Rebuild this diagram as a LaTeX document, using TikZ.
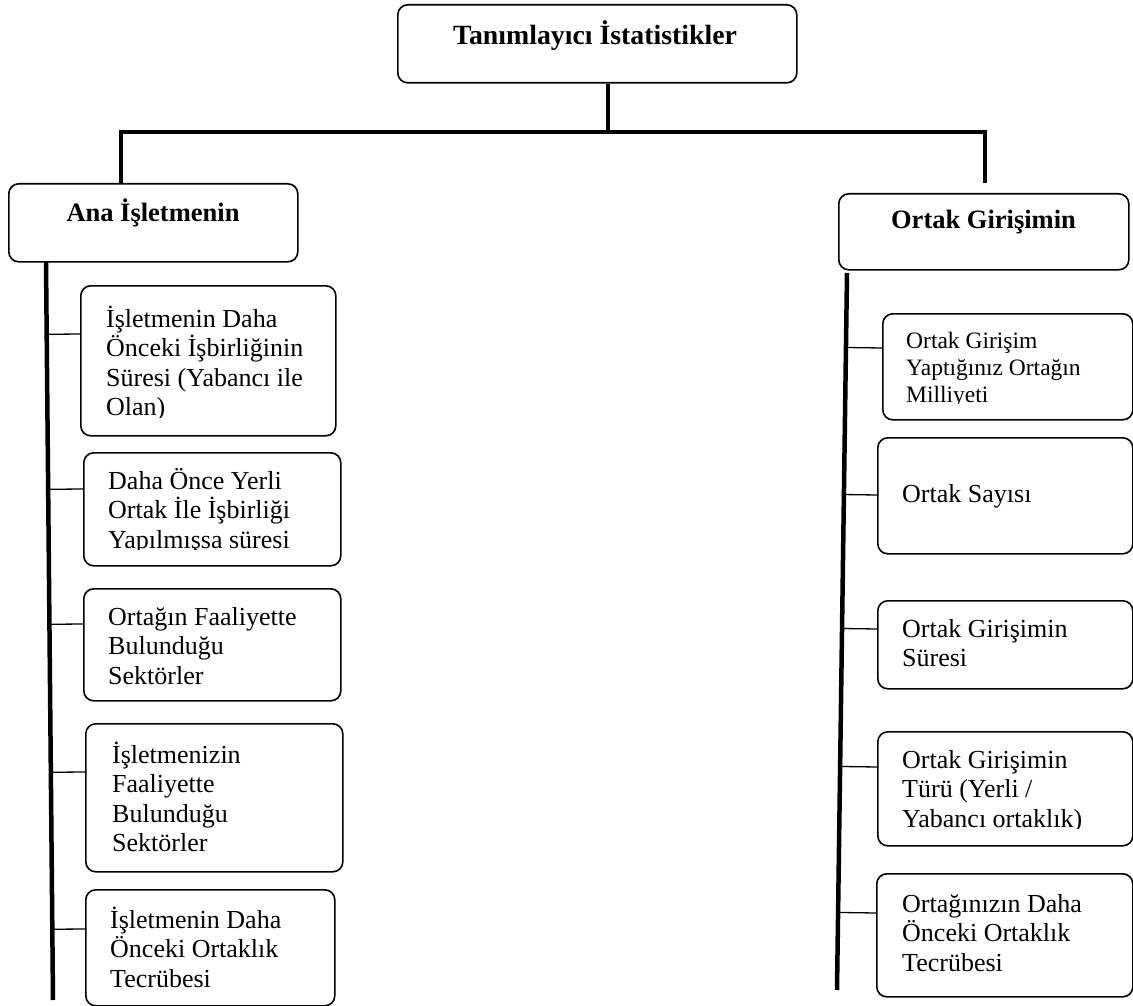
\documentclass[tikz,border=0pt]{standalone}
\usepackage{fontspec}
\setmainfont{Liberation Serif}
\usetikzlibrary{calc}

\tikzset{
  frame/.style={draw, line width=1.6pt, rounded corners=10pt, inner sep=0pt, anchor=north west},
  head/.style={font=\bfseries\fontsize{26.5}{30}\selectfont, anchor=base, inner sep=0pt},
  title/.style={head, font=\bfseries\fontsize{27.8}{31}\selectfont},
  leaf/.style={font=\fontsize{26}{29.5}\selectfont, anchor=base west, inner sep=0pt},
  leafsmall/.style={font=\fontsize{23.5}{27}\selectfont, anchor=base west, inner sep=0pt},
  stem/.style={line width=4.5pt},
  twig/.style={line width=1.3pt},
}
% stack of lines whose reference point is the first baseline
\newcommand\rows[1]{\vtop{\halign{##\hfil\cr#1\crcr}}}

\begin{document}
\begin{tikzpicture}[x=1pt,y=-1pt]
\useasboundingbox (0,0) rectangle (1133,1006);
\fill[white] (0,0) rectangle (1133,1006);

% headings
\node[frame, minimum width=399pt, minimum height=78pt] (T) at (397,4) {};
\node[title] (Tt) at (595,45) {Tanımlayıcı İstatistikler};
\node[frame, minimum width=289pt, minimum height=78pt] (A) at (8,183) {};
\node[head] (At) at (153,222) {Ana İşletmenin};
\node[frame, minimum width=290pt, minimum height=76pt] (O) at (838,193) {};
\node[head] (Ot) at (983.5,228) {Ortak Girişimin};

% top connector bus
\coordinate (hub) at (608,132);
\coordinate (bl) at (121,132);
\coordinate (br) at (985,132);
\coordinate (rd) at (985,183);
\draw[stem] (hub |- T.south) -- (hub);
\draw[stem] (A.north -| bl) -- (bl) -- (br) -- (rd);

% trunks
\coordinate (lt) at (46,262);
\coordinate (lb) at (53,1000);
\coordinate (rt) at (847,273);
\coordinate (rb) at (837,990);
\draw[stem] (lt) -- (lb);
\draw[stem] (rt) -- (rb);

% left column
\node[frame, minimum width=255pt, minimum height=150pt] (L1) at (80,285) {};
\begin{scope}
  \clip (80,285) rectangle (335,417);
  \node[leaf] (L1t) at (106,327) {\rows{İşletmenin Daha\cr Önceki İşbirliğinin\cr Süresi (Yabancı ile\cr Olan)}};
\end{scope}
\node[frame, minimum width=257pt, minimum height=113pt] (L2) at (83,452) {};
\begin{scope}
  \clip (83,452) rectangle (340,549.5);
  \node[leaf] (L2t) at (108,489) {\rows{Daha Önce Yerli\cr Ortak İle İşbirliği\cr Yapılmışsa süresi}};
\end{scope}
\node[frame, minimum width=257pt, minimum height=112pt] (L3) at (83,588) {};
\node[leaf] (L3t) at (108,625) {\rows{Ortağın Faaliyette\cr Bulunduğu\cr Sektörler}};
\node[frame, minimum width=257pt, minimum height=148pt] (L4) at (85,723) {};
\node[leaf] (L4t) at (112,763) {\rows{İşletmenizin\cr Faaliyette\cr Bulunduğu\cr Sektörler}};
\node[frame, minimum width=249pt, minimum height=116pt] (L5) at (85,889) {};
\node[leaf] (L5t) at (110,928) {\rows{İşletmenin Daha\cr Önceki Ortaklık\cr Tecrübesi}};

\coordinate (lc1) at (80,334);
\coordinate (lc2) at (83,489);
\coordinate (lc3) at (83,624);
\coordinate (lc4) at (85,772);
\coordinate (lc5) at (85,929);
\foreach \c in {lc1,lc2,lc3,lc4,lc5}
  \draw[twig] ($(lt)!(\c)!(lb)$) -- (\c);

% right column
\node[frame, minimum width=250pt, minimum height=106pt] (R1) at (882,313) {};
\begin{scope}
  \clip (882,313) rectangle (1133,403);
  \node[leafsmall] (R1t) at (906,348) {\rows{Ortak Girişim\cr Yaptığınız Ortağın\cr Milliyeti}};
\end{scope}
\node[frame, minimum width=255pt, minimum height=116pt] (R2) at (877,437) {};
\node[leaf] (R2t) at (902,502) {Ortak Sayısı};
\node[frame, minimum width=255pt, minimum height=88pt] (R3) at (877,600) {};
\node[leaf] (R3t) at (902,637) {\rows{Ortak Girişimin\cr Süresi}};
\node[frame, minimum width=255pt, minimum height=114pt] (R4) at (877,731) {};
\begin{scope}
  \clip (877,731) rectangle (1132,828.5);
  \node[leaf] (R4t) at (902,768) {\rows{Ortak Girişimin\cr Türü (Yerli /\cr Yabancı ortaklık)}};
\end{scope}
\node[frame, minimum width=256pt, minimum height=123pt] (R5) at (876,873) {};
\node[leaf] (R5t) at (902,912) {\rows{Ortağınızın Daha\cr Önceki Ortaklık\cr Tecrübesi}};

\coordinate (rc1) at (882,348);
\coordinate (rc2) at (877,495);
\coordinate (rc3) at (877,629);
\coordinate (rc4) at (877,767);
\coordinate (rc5) at (876,913);
\foreach \c in {rc1,rc2,rc3,rc4,rc5}
  \draw[twig] ($(rt)!(\c)!(rb)$) -- (\c);
\end{tikzpicture}
\end{document}
